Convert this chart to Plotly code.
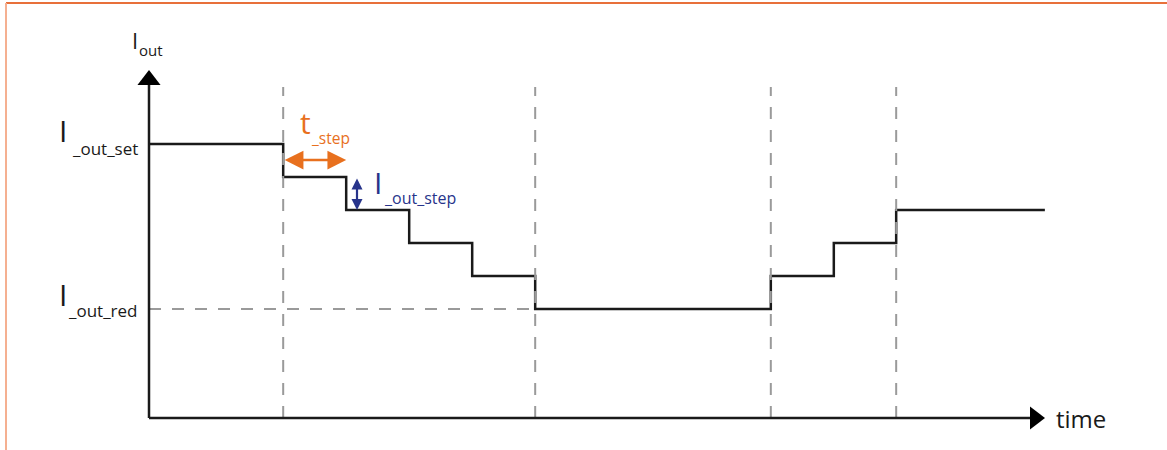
"""Step-wise output current reduction diagram."""
import plotly.graph_objects as go

# step profile: time in units of t_step, current in units of I_out_step
step_times = [0, 2.13, 3.13, 4.13, 5.13, 6.13, 9.87, 10.87, 11.86, 14.22]
step_levels = [8.3, 7.3, 6.3, 5.3, 4.3, 3.3, 4.3, 5.3, 6.3, 6.3]
guide_times = [2.13, 6.13, 9.87, 11.86]
i_set = 8.3
i_red = 3.3

W, H = 1167, 450
X0, Y0, TX, TY = 149, 418, 63, 33  # axis origin in px, px per unit


def tx(px):
    return (px - X0) / TX


def iy(py):
    return (Y0 - py) / TY


BLACK = "#1a1a1a"
GREY = "#9a9a9a"
ORANGE = "#e8701e"
BLUE = "#27348b"
FONT = "Open Sans"

fig = go.Figure()

shapes = []
# dashed guides
for t in guide_times:
    shapes.append(dict(type="line", x0=t, x1=t, y0=0, y1=iy(87),
                       line=dict(color=GREY, width=2, dash="12px,11px")))
shapes.append(dict(type="line", x0=0, x1=guide_times[1], y0=i_red, y1=i_red,
                   line=dict(color=GREY, width=2, dash="12px,11px")))
# axes
shapes.append(dict(type="line", x0=0, x1=tx(1030), y0=0, y1=0,
                   line=dict(color=BLACK, width=2.5)))
shapes.append(dict(type="line", x0=0, x1=0, y0=0, y1=iy(85),
                   line=dict(color=BLACK, width=2.5)))
# frame edges
shapes.append(dict(type="line", xref="paper", yref="paper", x0=6 / W, x1=1,
                   y0=1 - 3 / H, y1=1 - 3 / H, line=dict(color="#e8703a", width=2)))
shapes.append(dict(type="line", xref="paper", yref="paper", x0=6 / W, x1=6 / W,
                   y0=0, y1=1 - 3 / H, line=dict(color="#f5b091", width=2)))

fig.add_trace(go.Scatter(x=step_times, y=step_levels, mode="lines",
                         line=dict(color=BLACK, width=2.5, shape="hv"),
                         hoverinfo="skip"))
# arrow heads of the axes
fig.add_trace(go.Scatter(x=[0], y=[iy(80)], mode="markers",
                         marker=dict(symbol="triangle-up", size=20, color="black"),
                         hoverinfo="skip"))
fig.add_trace(go.Scatter(x=[tx(1035)], y=[0], mode="markers",
                         marker=dict(symbol="triangle-right", size=20, color="black"),
                         hoverinfo="skip"))


def label(x, y, text, size, color=BLACK, xanchor="left"):
    fig.add_annotation(x=x, y=y, text=text, showarrow=False, xanchor=xanchor,
                       yanchor="middle", borderpad=0,
                       font=dict(family=FONT, size=size, color=color))


label(tx(131), iy(40), "I", 22)
label(tx(138), iy(50), "out", 15)
label(tx(68), iy(130), "I", 30, xanchor="right")
label(tx(139), iy(148), "_out_set", 17, xanchor="right")
label(tx(68), iy(294), "I", 30, xanchor="right")
label(tx(139), iy(310), "_out_red", 17, xanchor="right")
label(tx(1055), iy(418), "time", 24)
label(tx(299), iy(122), "t", 30, ORANGE)
label(tx(310), iy(138), "_step", 15.5, ORANGE)
label(tx(373), iy(182), "I", 30, BLUE)
label(tx(383), iy(198), "_out_step", 16, BLUE)

# t_step and I_out_step double arrows
fig.add_annotation(x=step_times[2], y=iy(160), ax=step_times[1], ay=iy(160),
                   axref="x", ayref="y", text="", showarrow=True,
                   arrowhead=2, startarrowhead=2, arrowside="end+start",
                   arrowsize=1.5, arrowwidth=2.5, arrowcolor=ORANGE, standoff=0)
fig.add_annotation(x=tx(357), y=step_levels[2], ax=tx(357), ay=step_levels[1],
                   axref="x", ayref="y", text="", showarrow=True,
                   arrowhead=2, startarrowhead=2, arrowside="end+start",
                   arrowsize=1.0, arrowwidth=2.2, arrowcolor=BLUE, standoff=0)

fig.update_layout(
    width=W, height=H, autosize=False,
    margin=dict(l=0, r=0, t=0, b=0),
    plot_bgcolor="white", paper_bgcolor="white",
    showlegend=False, shapes=shapes,
    xaxis=dict(range=[tx(0), tx(W)], visible=False, fixedrange=True),
    yaxis=dict(range=[iy(H), iy(0)], visible=False, fixedrange=True),
)
fig.write_html("out.html", config={"displayModeBar": False},
               post_script="document.body.style.margin='0';")
